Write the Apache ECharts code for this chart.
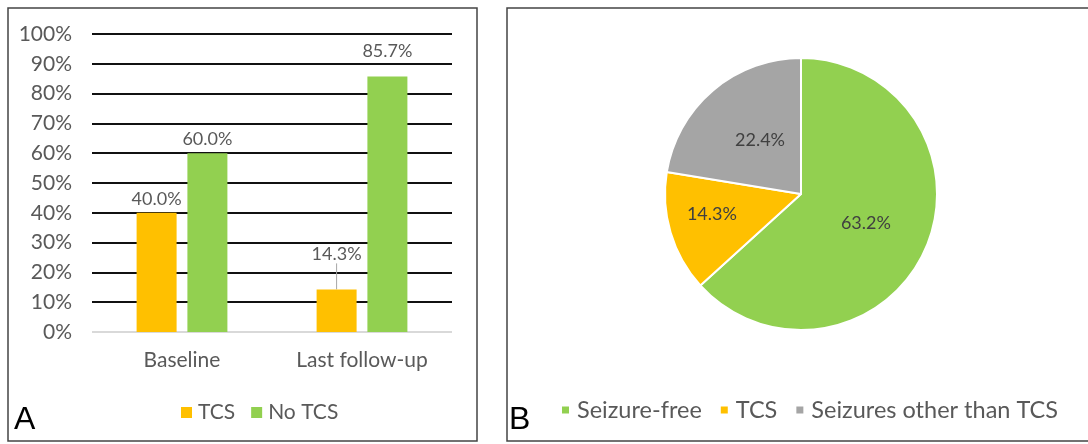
<!DOCTYPE html>
<html><head><meta charset="utf-8">
<script src="https://cdn.jsdelivr.net/npm/echarts@6/dist/echarts.min.js"></script>
<style>html,body{margin:0;padding:0;background:#fff;overflow:hidden}
#a{position:absolute;left:0;top:0;width:490px;height:444px}
#b{position:absolute;left:490px;top:0;width:598px;height:444px}</style>
</head><body><div id="a"></div><div id="b"></div>
<script>
// ---- data ----
const categories = ['Baseline', 'Last follow-up'];
const tcsValues = [40.0, 14.3];
const noTcsValues = [60.0, 85.7];
const yTickMin = 0, yTickMax = 100, yTickStep = 10;
const pieNames = ['Seizure-free', 'TCS', 'Seizures other than TCS'];
const pieValues = [63.2, 14.3, 22.4];

// ---- style ----
const FONT = 'Lato';
const ORANGE = '#FFC000', GREEN = '#92D050', GRAY = '#A5A5A5';
const TXT = '#595959';
const tcsLabelShift = [0, -21];
const noTcsLabelShift = [0, -11];
const pieColors = [GREEN, ORANGE, GRAY];
const pieLabelOffsets = [[0, 0], [-21, 0], [5, 0]];

const chartA = echarts.init(document.getElementById('a'), null, {renderer: 'canvas'});
const gridColors = ['#d9d9d9'];
for (let i = 0; i < 10; i++) gridColors.push('#111');
chartA.setOption({
  animation: false,
  textStyle: {fontFamily: FONT},
  grid: {left: 92, top: 34, width: 360, height: 298},
  xAxis: {
    type: 'category', data: categories,
    axisLine: {show: false}, axisTick: {show: false},
    axisLabel: {color: TXT, fontSize: 21, fontFamily: FONT, margin: 18}
  },
  yAxis: {
    type: 'value', min: yTickMin, max: yTickMax, interval: yTickStep,
    axisLine: {show: false}, axisTick: {show: false},
    axisLabel: {color: TXT, fontSize: 21, fontFamily: FONT, margin: 20, formatter: '{value}%'},
    splitLine: {lineStyle: {color: gridColors, width: 2}}
  },
  legend: {
    left: 176, top: 397, itemWidth: 11, itemHeight: 11, itemGap: 16, icon: 'rect',
    textStyle: {color: TXT, fontSize: 21, fontFamily: FONT, padding: [0, 0, 0, 1]},
    data: ['TCS', 'No TCS']
  },
  series: [
    {
      name: 'TCS', type: 'bar', barWidth: 40, barGap: '27%',
      data: tcsValues.map((v, i) => ({value: v, labelLine: {show: tcsLabelShift[i] !== 0}})),
      itemStyle: {color: ORANGE},
      label: {show: true, position: 'top', color: TXT, fontSize: 18, fontFamily: FONT,
        formatter: p => p.value.toFixed(1) + '%'},
      labelLayout: p => ({dy: tcsLabelShift[p.dataIndex]}),
      labelLine: {lineStyle: {color: '#a6a6a6', width: 1}}
    },
    {
      name: 'No TCS', type: 'bar', data: noTcsValues, barWidth: 40,
      itemStyle: {color: GREEN},
      label: {show: true, position: 'top', color: TXT, fontSize: 18, fontFamily: FONT,
        formatter: p => p.value.toFixed(1) + '%'},
      labelLayout: p => ({dy: noTcsLabelShift[p.dataIndex]})
    }
  ],
  graphic: [
    {type: 'rect', shape: {x: 8, y: 8, width: 469, height: 433}, style: {fill: 'none', stroke: '#444', lineWidth: 1.5}},
    {type: 'text', x: 14, y: 420, style: {text: 'A', fontSize: 32, fontFamily: 'Liberation Sans', fill: '#000', verticalAlign: 'middle'}}
  ]
});

const chartB = echarts.init(document.getElementById('b'), null, {renderer: 'canvas'});
chartB.setOption({
  animation: false,
  textStyle: {fontFamily: FONT},
  legend: {
    left: 65, top: 393, width: 800, itemWidth: 9, itemHeight: 9, itemGap: 17, icon: 'rect',
    textStyle: {color: TXT, fontSize: 23.5, fontFamily: FONT, padding: [0, 0, 0, 2]},
    data: pieNames
  },
  series: [{
    type: 'pie', center: [311, 194], radius: 136, startAngle: 90, clockwise: true,
    itemStyle: {borderColor: '#fff', borderWidth: 2},
    label: {show: true, position: 'inside', color: '#404040', fontSize: 18, fontFamily: FONT,
      formatter: p => p.value.toFixed(1) + '%'},
    labelLine: {show: false},
    data: pieNames.map((n, i) => ({name: n, value: pieValues[i],
      itemStyle: {color: pieColors[i]}, label: {offset: pieLabelOffsets[i]}}))
  }],
  graphic: [
    {type: 'rect', shape: {x: 17, y: 8, width: 620, height: 433}, style: {fill: 'none', stroke: '#444', lineWidth: 1.5}},
    {type: 'text', x: 19, y: 420, style: {text: 'B', fontSize: 32, fontFamily: 'Liberation Sans', fill: '#000', verticalAlign: 'middle'}}
  ]
});
</script></body></html>
